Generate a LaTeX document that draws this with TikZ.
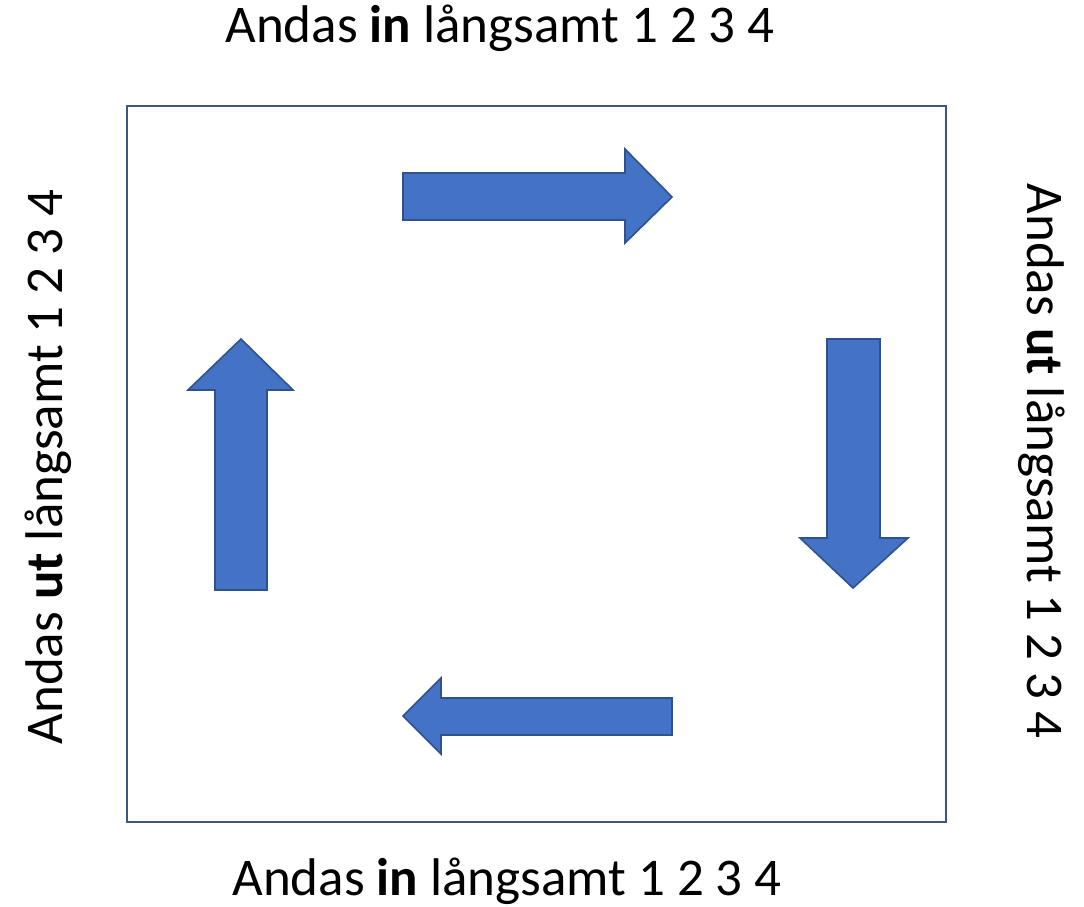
\documentclass[tikz,border=0pt]{standalone}
\usepackage{fontspec}
\setmainfont{Carlito}
\definecolor{arrowfill}{HTML}{4472C4}
\definecolor{arrowline}{HTML}{2F528F}
\definecolor{framecol}{HTML}{3E5680}
\tikzset{
  blockarrow/.style={fill=arrowfill, draw=arrowline, line width=1.6pt, line join=miter},
  framebox/.style={draw=framecol, line width=2pt},
  caption/.style={font=\fontsize{53}{64}\selectfont, inner sep=0pt, anchor=base}
}
\begin{document}
\begin{tikzpicture}[x=1pt,y=-1pt]
  \useasboundingbox[fill=white] (0,0) rectangle (1084,907);
  % frame
  \draw[framebox] (127,106) rectangle (946,822);
  % four block arrows going round clockwise
  \draw[blockarrow] (403,173) -- (625,173) -- (625,149) -- (672,197) -- (625,243) -- (625,220) -- (403,220) -- cycle;
  \draw[blockarrow] (827,339) -- (880,339) -- (880,538) -- (908,538) -- (853,588) -- (800,538) -- (827,538) -- cycle;
  \draw[blockarrow] (672,698) -- (441,698) -- (441,678) -- (403,716) -- (441,754) -- (441,735) -- (672,735) -- cycle;
  \draw[blockarrow] (215,590) -- (215,390) -- (188,390) -- (241,339) -- (293,390) -- (267,390) -- (267,590) -- cycle;
  % captions on the four sides
  \node[caption] (top) at (500,43) {Andas \textbf{in} långsamt 1 2 3 4};
  \node[caption] (bottom) at (507,895) {Andas \textbf{in} långsamt 1 2 3 4};
  \node[caption, rotate=90] (left) at (62,467) {Andas \textbf{ut} långsamt 1 2 3 4};
  \node[caption, rotate=-90] (right) at (1027,461) {Andas \textbf{ut} långsamt 1 2 3 4};
\end{tikzpicture}
\end{document}
